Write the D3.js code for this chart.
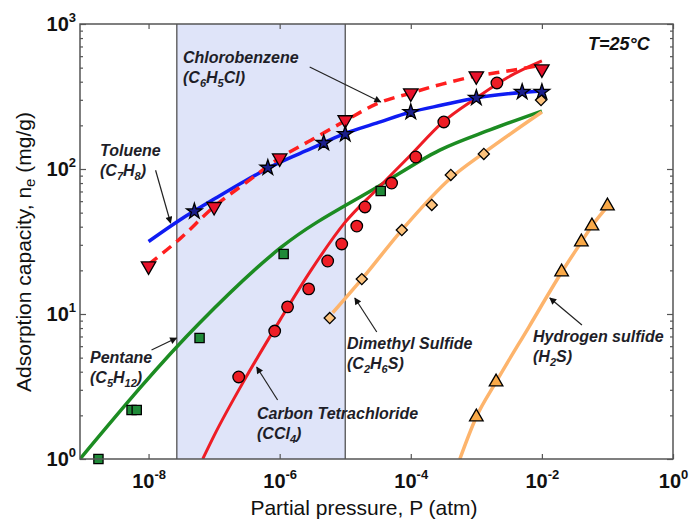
<!DOCTYPE html>
<html lang="en">
<head>
<meta charset="utf-8">
<title>Adsorption capacity vs partial pressure</title>
<script src="https://cdn.jsdelivr.net/npm/d3@7"></script>
<style>
  body { margin: 0; background: #fff; }
  svg { font-family: Arial, "Liberation Sans", sans-serif; }
</style>
</head>
<body>
<script>
// ---- tick labels ----
var xTicks = [1e-8, 1e-6, 1e-4, 1e-2, 1];
var xTickExp = ["-8", "-6", "-4", "-2", "0"];
var yTicks = [1, 10, 100, 1000];
var yTickExp = ["0", "1", "2", "3"];

// shaded pressure window (atm)
var shadeP = [2.7e-8, 1e-5];

// ---- Toluene (stars, blue fit) ----
var tolP = [5e-8, 6.6e-7, 4.7e-6, 1e-5, 1e-4, 1e-3, 5e-3, 1e-2];
var tolN = [51, 102, 151, 174, 247, 309, 340, 340];
var tolFitP = [1e-8, 3e-8, 1e-7, 3e-7, 1e-6, 3e-6, 1e-5, 3e-5, 1e-4, 3e-4, 1e-3, 3e-3, 1e-2];
var tolFitN = [31.6, 44.5, 62, 83, 111, 138, 176, 207, 247, 276, 309, 330, 345];

// ---- Chlorobenzene (down triangles, red dashed fit) ----
var chlP = [1e-8, 1e-7, 1e-6, 1e-5, 1e-4, 1e-3, 1e-2];
var chlN = [21.4, 55, 119, 218, 334, 438, 489];
var chlFitP = [1e-8, 3e-8, 1e-7, 3e-7, 1e-6, 3e-6, 1e-5, 3e-5, 1e-4, 3e-4, 1e-3, 3e-3, 1e-2];
var chlFitN = [22, 33, 55, 80, 119, 158, 215, 281, 334, 385, 438, 474, 520];

// ---- Carbon tetrachloride (circles, red fit) ----
var cclP = [2.37e-7, 8.4e-7, 1.32e-6, 2.77e-6, 5.4e-6, 8.85e-6, 1.5e-5, 2e-5, 5.1e-5, 1.19e-4, 3.19e-4, 2.06e-3];
var cclN = [3.68, 7.63, 11.2, 14.9, 23.2, 30.4, 40.4, 54.7, 80, 121, 211, 392];
var cclFitP = [6.7e-8, 1e-7, 3e-7, 1e-6, 3e-6, 1e-5, 3e-5, 1e-4, 3e-4, 1e-3, 3e-3, 1e-2];
var cclFitN = [1, 1.45, 3.6, 9.0, 20, 43, 72, 125, 208, 309, 428, 556];

// ---- Pentane (squares, green fit) ----
var penP = [1.72e-9, 5.5e-9, 6.6e-9, 6.0e-8, 1.15e-6, 3.48e-5];
var penN = [1, 2.18, 2.18, 6.83, 25.9, 70.5];
var penFitP = [9e-10, 6e-8, 1.07e-6, 3.48e-5, 2.77e-4, 1.61e-3, 1e-2];
var penFitN = [1, 8.67, 29, 77.6, 135, 186, 251];

// ---- Dimethyl sulfide (diamonds, light orange fit) ----
var dmsP = [5.8e-6, 1.79e-5, 7.3e-5, 2.09e-4, 4.08e-4, 1.3e-3, 9.7e-3];
var dmsN = [9.38, 17.4, 37.9, 56.5, 91, 127, 299];
var dmsFitP = [6.44e-6, 1.79e-5, 7.3e-5, 4.08e-4, 1.3e-3, 1e-2];
var dmsFitN = [10.2, 17.4, 37.9, 86.7, 129, 247];

// ---- Hydrogen sulfide (up triangles, light orange fit) ----
var h2sP = [1e-3, 2e-3, 2e-2, 4e-2, 5.8e-2, 0.1];
var h2sN = [1.95, 3.4, 19.5, 31.4, 40.5, 55.6];
var h2sFitP = [5.6e-4, 1e-3, 2e-3, 6.33e-3, 2e-2, 4e-2, 5.8e-2, 0.1];
var h2sFitN = [1, 1.95, 3.4, 8.13, 19.4, 31.4, 40.5, 55];

var W = 695, H = 523;
var L = 80, R = 673, T = 24, B = 459;

var svg = d3.select("body").append("svg")
  .attr("width", W)
  .attr("height", H);

var x = d3.scaleLog().domain([9e-10, 1]).range([L, R]);
var y = d3.scaleLog().domain([1, 1000]).range([B, T]);

svg.append("clipPath").attr("id", "plot")
  .append("rect").attr("x", L).attr("y", T).attr("width", R - L).attr("height", B - T);

// shaded window
svg.append("rect")
  .attr("x", x(shadeP[0]))
  .attr("y", T)
  .attr("width", x(shadeP[1]) - x(shadeP[0]))
  .attr("height", B - T)
  .attr("fill", "#dfe4f9");
shadeP.forEach(function(p) {
  svg.append("line")
    .attr("x1", x(p)).attr("x2", x(p))
    .attr("y1", T).attr("y2", B)
    .attr("stroke", "#444").attr("stroke-width", 1.2);
});

// fit curves
var line = d3.line()
  .x(function(d) { return x(d[0]); })
  .y(function(d) { return y(d[1]); })
  .curve(d3.curveMonotoneX);

var fits = [
  {P: penFitP, N: penFitN, color: "#1c8c22", width: 3.5},
  {P: dmsFitP, N: dmsFitN, color: "#fdb46c", width: 3.5},
  {P: h2sFitP, N: h2sFitN, color: "#fdb46c", width: 3.5},
  {P: cclFitP, N: cclFitN, color: "#ee1c25", width: 3},
  {P: tolFitP, N: tolFitN, color: "#0f1cf2", width: 3.5},
  {P: chlFitP, N: chlFitN, color: "#ff1f1f", width: 3.5, dash: "11,7"}
];

var gLines = svg.append("g").attr("clip-path", "url(#plot)");
fits.forEach(function(f) {
  gLines.append("path")
    .datum(d3.zip(f.P, f.N))
    .attr("d", line)
    .attr("fill", "none")
    .attr("stroke", f.color)
    .attr("stroke-width", f.width)
    .attr("stroke-dasharray", f.dash || null);
});

// markers
var series = [
  {P: penP, N: penN, type: d3.symbolSquare, size: 85, rot: 0, fill: "#1f8a38"},
  {P: dmsP, N: dmsN, type: d3.symbolSquare, size: 62, rot: 45, fill: "#fcc27c"},
  {P: h2sP, N: h2sN, type: d3.symbolTriangle, size: 80, rot: 0, fill: "#f9a948"},
  {P: cclP, N: cclN, type: d3.symbolCircle, size: 105, rot: 0, fill: "#ee1d25"},
  {P: chlP, N: chlN, type: d3.symbolTriangle, size: 90, rot: 180, fill: "#e8122b"},
  {P: tolP, N: tolN, type: d3.symbolStar, size: 75, rot: 0, fill: "#1b1f8c"}
];

series.forEach(function(s) {
  svg.append("g").selectAll("path")
    .data(d3.zip(s.P, s.N))
    .enter()
    .append("path")
    .attr("d", d3.symbol().type(s.type).size(s.size))
    .attr("transform", function(d) {
      return "translate(" + x(d[0]) + "," + y(d[1]) + ") rotate(" + s.rot + ")";
    })
    .attr("fill", s.fill)
    .attr("stroke", "#000")
    .attr("stroke-width", 1.3);
});

// axes with inward ticks
var axisColor = "#555";
function styleAxis(g) {
  g.select(".domain").remove();
  g.selectAll(".tick line").attr("stroke", axisColor).attr("stroke-width", 1.2);
}
function powLabels(g, exps, fs) {
  g.selectAll(".tick text").each(function(d, i) {
    var t = d3.select(this).text(null)
      .attr("fill", "#111")
      .attr("font-size", fs)
      .attr("font-weight", "bold");
    t.append("tspan").text("10");
    t.append("tspan").attr("dy", -9).attr("font-size", 13).text(exps[i]);
  });
}

var yMinor = y.ticks().filter(function(v) { return yTicks.indexOf(v) < 0; });

var gxb = svg.append("g").attr("transform", "translate(0," + B + ")")
  .call(d3.axisBottom(x).tickValues(xTicks).tickSizeInner(-5).tickSizeOuter(0).tickPadding(0));
styleAxis(gxb);
gxb.selectAll(".tick text").attr("dy", null).attr("y", 29).attr("text-anchor", "middle");
powLabels(gxb, xTickExp, 20);

svg.append("g").attr("transform", "translate(0," + T + ")")
  .call(d3.axisTop(x).tickValues(xTicks).tickSizeInner(-5).tickSizeOuter(0).tickFormat(""))
  .call(styleAxis);

var gyl = svg.append("g").attr("transform", "translate(" + L + ",0)")
  .call(d3.axisLeft(y).tickValues(yTicks).tickSizeInner(-6).tickSizeOuter(0).tickPadding(4));
styleAxis(gyl);
gyl.selectAll(".tick text").attr("dy", "0.3em");
powLabels(gyl, yTickExp, 20);

svg.append("g").attr("transform", "translate(" + L + ",0)")
  .call(d3.axisLeft(y).tickValues(yMinor).tickSizeInner(-3).tickSizeOuter(0).tickFormat(""))
  .call(styleAxis);
svg.append("g").attr("transform", "translate(" + R + ",0)")
  .call(d3.axisRight(y).tickValues(yTicks).tickSizeInner(-6).tickSizeOuter(0).tickFormat(""))
  .call(styleAxis);
svg.append("g").attr("transform", "translate(" + R + ",0)")
  .call(d3.axisRight(y).tickValues(yMinor).tickSizeInner(-3).tickSizeOuter(0).tickFormat(""))
  .call(styleAxis);

svg.append("rect")
  .attr("x", L).attr("y", T).attr("width", R - L).attr("height", B - T)
  .attr("fill", "none").attr("stroke", axisColor).attr("stroke-width", 1.5);

// rich text: _{..} subscript, ^{..} superscript
function rich(t, str, small) {
  var re = /([_^])\{([^}]*)\}/g, last = 0, m, shift = 0;
  while ((m = re.exec(str)) !== null) {
    if (m.index > last) {
      t.append("tspan").attr("dy", -shift).text(str.slice(last, m.index));
      shift = 0;
    }
    var d = m[1] === "_" ? 4 : -7;
    t.append("tspan").attr("dy", d - shift).attr("font-size", small).text(m[2]);
    shift = d;
    last = re.lastIndex;
  }
  if (last < str.length) t.append("tspan").attr("dy", -shift).text(str.slice(last));
}

// axis titles
rich(svg.append("text")
  .attr("x", 364).attr("y", 515)
  .attr("text-anchor", "middle")
  .attr("font-size", 21)
  .attr("fill", "#111"), "Partial pressure, P (atm)", 15);

rich(svg.append("text")
  .attr("transform", "translate(31,252) rotate(-90)")
  .attr("text-anchor", "middle")
  .attr("font-size", 21)
  .attr("fill", "#111"), "Adsorption capacity, n_{e} (mg/g)", 15);

// compound labels
var labels = [
  {x: 100, y: 156, lines: ["Toluene", "(C_{7}H_{8})"]},
  {x: 183, y: 63, lines: ["Chlorobenzene", "(C_{6}H_{5}Cl)"]},
  {x: 90, y: 363, lines: ["Pentane", "(C_{5}H_{12})"]},
  {x: 257, y: 419, lines: ["Carbon Tetrachloride", "(CCl_{4})"]},
  {x: 347, y: 349, lines: ["Dimethyl Sulfide", "(C_{2}H_{6}S)"]},
  {x: 533, y: 342, lines: ["Hydrogen sulfide", "(H_{2}S)"]}
];
labels.forEach(function(lb) {
  lb.lines.forEach(function(s, i) {
    rich(svg.append("text")
      .attr("x", lb.x).attr("y", lb.y + i * 20)
      .attr("font-size", 16)
      .attr("font-weight", "bold")
      .attr("font-style", "italic")
      .attr("fill", "#1e1e28"), s, 11);
  });
});

svg.append("text")
  .attr("x", 588).attr("y", 50)
  .attr("font-size", 18)
  .attr("font-weight", "bold")
  .attr("font-style", "italic")
  .attr("fill", "#111")
  .text("T=25°C");

// arrows (data coordinates)
var arrows = [
  {from: [1.28e-8, 98], to: [2.17e-8, 42.4]},
  {from: [2.87e-6, 505], to: [3.48e-5, 290]},
  {from: [1.11e-8, 5.65], to: [2.67e-8, 6.83]},
  {from: [9.3e-7, 2.55], to: [4.46e-7, 4.31]},
  {from: [3.03e-5, 7.51], to: [1.4e-5, 12.9]},
  {from: [4.08e-2, 8.4], to: [1.32e-2, 12.9]}
];

svg.append("defs").append("marker")
  .attr("id", "head")
  .attr("viewBox", "0 0 10 10")
  .attr("refX", 9).attr("refY", 5)
  .attr("markerWidth", 9).attr("markerHeight", 7)
  .attr("markerUnits", "userSpaceOnUse")
  .attr("orient", "auto")
  .append("path")
  .attr("d", "M0,0 L10,5 L0,10 Z")
  .attr("fill", "#111");

arrows.forEach(function(a) {
  svg.append("line")
    .attr("x1", x(a.from[0])).attr("y1", y(a.from[1]))
    .attr("x2", x(a.to[0])).attr("y2", y(a.to[1]))
    .attr("stroke", "#222")
    .attr("stroke-width", 1.2)
    .attr("marker-end", "url(#head)");
});
</script>
</body>
</html>
